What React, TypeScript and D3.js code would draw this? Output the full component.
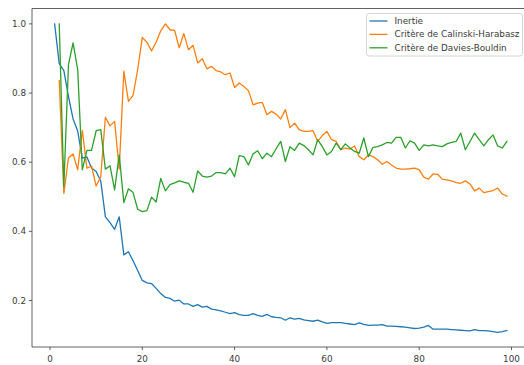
import React, { useEffect, useRef } from 'react';
import * as d3 from 'd3';

// nombre de clusters : inertie de 1 à 99, les deux critères de 2 à 99
const inertie = [
  1.0, 0.885, 0.865, 0.79, 0.725, 0.69, 0.612, 0.615, 0.583, 0.573,
  0.545, 0.442, 0.425, 0.406, 0.442, 0.332, 0.341, 0.315, 0.287, 0.258,
  0.251, 0.249, 0.235, 0.22, 0.209, 0.206, 0.198, 0.201, 0.19, 0.19,
  0.183, 0.188, 0.181, 0.183, 0.175, 0.173, 0.17, 0.166, 0.162, 0.165,
  0.159, 0.157, 0.157, 0.162, 0.157, 0.154, 0.16, 0.153, 0.151, 0.15,
  0.143, 0.15, 0.146, 0.148, 0.144, 0.142, 0.14, 0.143, 0.138, 0.134,
  0.136, 0.136, 0.136, 0.134, 0.132, 0.13, 0.135, 0.131, 0.128, 0.129,
  0.129, 0.13, 0.126, 0.126, 0.125, 0.124, 0.123, 0.121, 0.119, 0.12,
  0.123, 0.128, 0.117, 0.117, 0.117, 0.117, 0.116, 0.115, 0.114, 0.113,
  0.112, 0.116, 0.113, 0.113, 0.112, 0.11, 0.108, 0.11, 0.113,
];

const calinski = [
  0.836, 0.51, 0.612, 0.624, 0.578, 0.692, 0.583, 0.589, 0.531,
  0.558, 0.73, 0.705, 0.718, 0.58, 0.863, 0.776, 0.793, 0.868, 0.961,
  0.947, 0.922, 0.947, 0.98, 1.0, 0.983, 0.981, 0.931, 0.972, 0.925,
  0.938, 0.887, 0.899, 0.87, 0.877, 0.865, 0.861, 0.853, 0.858, 0.816,
  0.829, 0.819, 0.807, 0.766, 0.771, 0.773, 0.737, 0.747, 0.739, 0.725,
  0.752, 0.7, 0.713, 0.694, 0.689, 0.689, 0.691, 0.66, 0.677, 0.689,
  0.665, 0.66, 0.636, 0.641, 0.638, 0.647, 0.616, 0.607, 0.621, 0.616,
  0.607, 0.594, 0.602, 0.592, 0.583, 0.58, 0.58, 0.581, 0.583, 0.578,
  0.557, 0.551, 0.566, 0.565, 0.551, 0.549, 0.546, 0.541, 0.539, 0.546,
  0.537, 0.517, 0.525, 0.512, 0.515, 0.518, 0.525, 0.508, 0.502,
];

const daviesBouldin = [
  1.0, 0.529, 0.882, 0.945, 0.868, 0.578, 0.634, 0.634, 0.691,
  0.694, 0.58, 0.59, 0.52, 0.621, 0.483, 0.523, 0.512, 0.464, 0.457,
  0.46, 0.499, 0.485, 0.553, 0.517, 0.535, 0.54, 0.546, 0.542, 0.539,
  0.513, 0.575, 0.56, 0.557, 0.56, 0.57, 0.57, 0.566, 0.583, 0.558,
  0.619, 0.616, 0.592, 0.624, 0.633, 0.61, 0.626, 0.616, 0.639, 0.66,
  0.602, 0.645, 0.634, 0.655, 0.648, 0.636, 0.621, 0.665, 0.645, 0.621,
  0.631, 0.655, 0.636, 0.653, 0.641, 0.631, 0.626, 0.67, 0.616, 0.643,
  0.645, 0.65, 0.657, 0.655, 0.672, 0.672, 0.641, 0.662, 0.655, 0.634,
  0.65, 0.647, 0.65, 0.647, 0.645, 0.653, 0.657, 0.66, 0.684, 0.636,
  0.66, 0.684, 0.665, 0.647, 0.665, 0.679, 0.647, 0.641, 0.66,
];

const xTicks = [0, 20, 40, 60, 80, 100];
const yTicks = [0.2, 0.4, 0.6, 0.8, 1.0];

const series = [
  { name: 'Inertie', start: 1, values: inertie, color: '#1f77b4' },
  { name: 'Critère de Calinski-Harabasz', start: 2, values: calinski, color: '#ff7f0e' },
  { name: 'Critère de Davies-Bouldin', start: 2, values: daviesBouldin, color: '#2ca02c' },
];

export default function App() {
  const svgRef = useRef<SVGSVGElement>(null);

  useEffect(() => {
    if (!svgRef.current) return;
    const svg = d3.select(svgRef.current);
    svg.selectAll('*').remove();

    // l'axe droit tombe hors de l'image, comme sur l'original
    const left = 32, right = 529.5, top = 8.5, bottom = 347;
    const font = '"DejaVu Sans", sans-serif';
    const fs = 8.8;
    const ink = '#3a3a3a';

    const x = d3.scaleLinear().domain([-3.9, 103.9]).range([left, right]);
    const y = d3.scaleLinear().domain([0.0655, 1.0445]).range([bottom, top]);

    const line = d3.line<[number, number]>().x(d => x(d[0])).y(d => y(d[1]));

    series.forEach(s => {
      const pts = s.values.map((v, i) => [s.start + i, v] as [number, number]);
      svg.append('path')
        .attr('d', line(pts))
        .attr('fill', 'none')
        .attr('stroke', s.color)
        .attr('stroke-width', 1.3)
        .attr('stroke-linejoin', 'round')
        .attr('stroke-linecap', 'square');
    });

    // cadre
    svg.append('line').attr('x1', left).attr('x2', left).attr('y1', top).attr('y2', bottom).attr('stroke', ink).attr('stroke-width', 0.8);
    svg.append('line').attr('x1', left).attr('x2', right).attr('y1', bottom).attr('y2', bottom).attr('stroke', ink).attr('stroke-width', 0.8);
    svg.append('line').attr('x1', left).attr('x2', right).attr('y1', top).attr('y2', top).attr('stroke', ink).attr('stroke-width', 0.8);

    xTicks.forEach(t => {
      svg.append('line').attr('x1', x(t)).attr('x2', x(t)).attr('y1', bottom).attr('y2', bottom + 3.1).attr('stroke', ink).attr('stroke-width', 0.8);
      svg.append('text').attr('x', x(t)).attr('y', 362)
        .attr('text-anchor', 'middle').attr('font-size', fs).attr('font-family', font).attr('fill', ink)
        .text(String(t));
    });

    yTicks.forEach(t => {
      svg.append('line').attr('x1', left - 3.1).attr('x2', left).attr('y1', y(t)).attr('y2', y(t)).attr('stroke', ink).attr('stroke-width', 0.8);
      svg.append('text').attr('x', 26).attr('y', y(t)).attr('dy', '0.35em')
        .attr('text-anchor', 'end').attr('font-size', fs).attr('font-family', font).attr('fill', ink)
        .text(t.toFixed(1));
    });

    // légende
    const lg = svg.append('g').attr('transform', 'translate(366.5,13.5)');
    lg.append('rect').attr('width', 156).attr('height', 42.5).attr('rx', 2.5)
      .attr('fill', 'white').attr('fill-opacity', 0.8).attr('stroke', '#cccccc').attr('stroke-width', 0.8);
    series.forEach((s, i) => {
      const yy = 7.5 + i * 13.4;
      lg.append('line').attr('x1', 3).attr('x2', 21).attr('y1', yy).attr('y2', yy)
        .attr('stroke', s.color).attr('stroke-width', 1.3);
      lg.append('text').attr('x', 28).attr('y', yy).attr('dy', '0.35em')
        .attr('font-size', fs).attr('font-family', font).attr('fill', ink)
        .text(s.name);
    });
  }, []);

  return (
    <svg ref={svgRef} width={524} height={365} viewBox="0 0 524 365"
      style={{ position: 'absolute', left: 0, top: 0, background: 'white' }} />
  );
}
